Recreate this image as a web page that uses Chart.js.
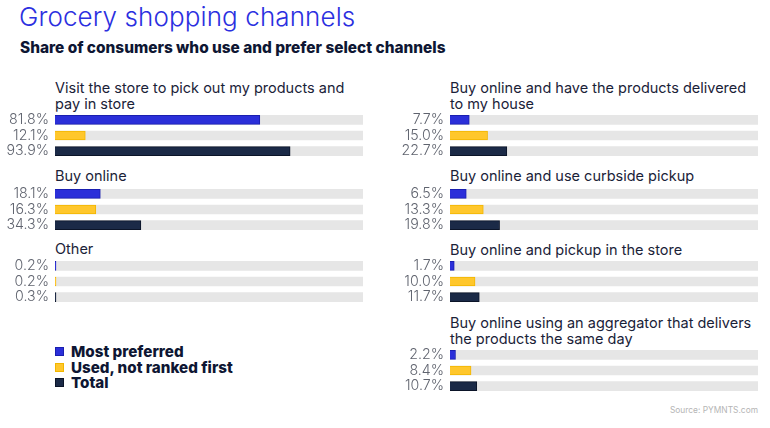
<!DOCTYPE html>
<html>
<head>
<meta charset="utf-8">
<script src="https://cdn.jsdelivr.net/npm/chart.js@4"></script>
<style>
  body { margin: 0; background: #fff; }
  #page { position: relative; width: 770px; height: 428px; overflow: hidden; font-family: "Inter", "Noto Sans", sans-serif; }
  .abs { position: absolute; }
  #title { left: 19px; top: 1px; font-size: 26px; font-weight: 300; color: #2b2fe0; letter-spacing: 0.1px; }
  #subtitle { left: 20px; top: 38px; font-size: 15.4px; font-weight: 800; color: #0e1633; }
  .gtitle { font-size: 14.5px; line-height: 15.5px; color: #1a2238; font-weight: 400; }
  .leg { left: 55px; font-size: 15.2px; font-weight: 800; color: #0e1633; line-height: 16px; }
  .leg span { display: inline-block; width: 7px; height: 7px; margin-right: 7px; vertical-align: 1px; border: 1px solid; }
  .box { position: absolute; width: 363px; height: 47px; }
  #source { right: 12px; top: 405px; font-size: 8.4px; color: #b5b5b5; }
</style>
</head>
<body>
<div id="page">
  <div id="title" class="abs">Grocery shopping channels</div>
  <div id="subtitle" class="abs">Share of consumers who use and prefer select channels</div>
  <div id="source" class="abs">Source: PYMNTS.com</div>
</div>
<script>
// channels, in reading order (left column first, then right column)
const channels = [
    ['Visit the store to pick out my products and', 'pay in store'],
    ['Buy online'],
    ['Other'],
    ['Buy online and have the products delivered', 'to my house'],
    ['Buy online and use curbside pickup'],
    ['Buy online and pickup in the store'],
    ['Buy online using an aggregator that delivers', 'the products the same day']
];
const mostPreferred = [81.8, 18.1, 0.2, 7.7, 6.5, 1.7, 2.2];
const usedNotFirst  = [12.1, 16.3, 0.2, 15.0, 13.3, 10.0, 8.4];
const total         = [93.9, 34.3, 0.3, 22.7, 19.8, 11.7, 10.7];
const seriesNames = ['Most preferred', 'Used, not ranked first', 'Total'];
const axisMax = 123;

const fillColors = ['#2b2fd9', '#ffc72c', '#1b2a47'];
const edgeColors = ['#1a1fb0', '#f2b600', '#0b1428'];

// where each small chart sits: column x, title top, bars top
const slots = [
    { x: 0,   titleTop: 80,  barsTop: 112 },
    { x: 0,   titleTop: 168, barsTop: 185.5 },
    { x: 0,   titleTop: 241, barsTop: 258 },
    { x: 395, titleTop: 80,  barsTop: 112 },
    { x: 395, titleTop: 168, barsTop: 185.5 },
    { x: 395, titleTop: 242, barsTop: 258 },
    { x: 395, titleTop: 315, barsTop: 347 }
];

const page = document.getElementById('page');

channels.forEach((lines, i) => {
    const slot = slots[i];

    const t = document.createElement('div');
    t.className = 'abs gtitle';
    t.style.left = (slot.x + 55) + 'px';
    t.style.top = slot.titleTop + 'px';
    t.innerHTML = lines.join('<br>');
    page.appendChild(t);

    const box = document.createElement('div');
    box.className = 'box';
    box.style.left = slot.x + 'px';
    box.style.top = slot.barsTop + 'px';
    const canvas = document.createElement('canvas');
    box.appendChild(canvas);
    page.appendChild(box);

    const values = [mostPreferred[i], usedNotFirst[i], total[i]];
    const labels = values.map(v => v.toFixed(1) + '%');

    new Chart(canvas.getContext('2d'), {
        type: 'bar',
        data: {
            labels: labels,
            datasets: [{
                data: values,
                backgroundColor: fillColors,
                borderColor: edgeColors,
                borderWidth: 1,
                barThickness: 9,
                minBarLength: 1,
                grouped: false
            }, {
                data: labels.map(() => axisMax),
                backgroundColor: '#e6e6e6',
                borderWidth: 0,
                barThickness: 9,
                grouped: false
            }]
        },
        options: {
            indexAxis: 'y',
            responsive: true,
            maintainAspectRatio: false,
            animation: false,
            events: [],
            layout: { padding: 0 },
            plugins: { legend: { display: false }, tooltip: { enabled: false } },
            scales: {
                x: { display: false, min: 0, max: axisMax },
                y: {
                    grid: { display: false, drawTicks: false },
                    border: { display: false },
                    ticks: {
                        padding: 6,
                        autoSkip: false,
                        color: '#5f636e',
                        font: { family: 'Inter', size: 14.2, weight: 300 }
                    },
                    afterFit: (scale) => {
                        // labels sit inside the rows, so no extra room above/below
                        scale.width = 55;
                        scale.paddingTop = 0;
                        scale.paddingBottom = 0;
                    }
                }
            }
        }
    });
});

// legend
seriesNames.forEach((name, i) => {
    const row = document.createElement('div');
    row.className = 'abs leg';
    row.style.top = (344 + i * 15.7) + 'px';
    row.innerHTML = '<span style="background:' + fillColors[i] + ';border-color:' + edgeColors[i] + '"></span>' + name;
    page.appendChild(row);
});
</script>
</body>
</html>
